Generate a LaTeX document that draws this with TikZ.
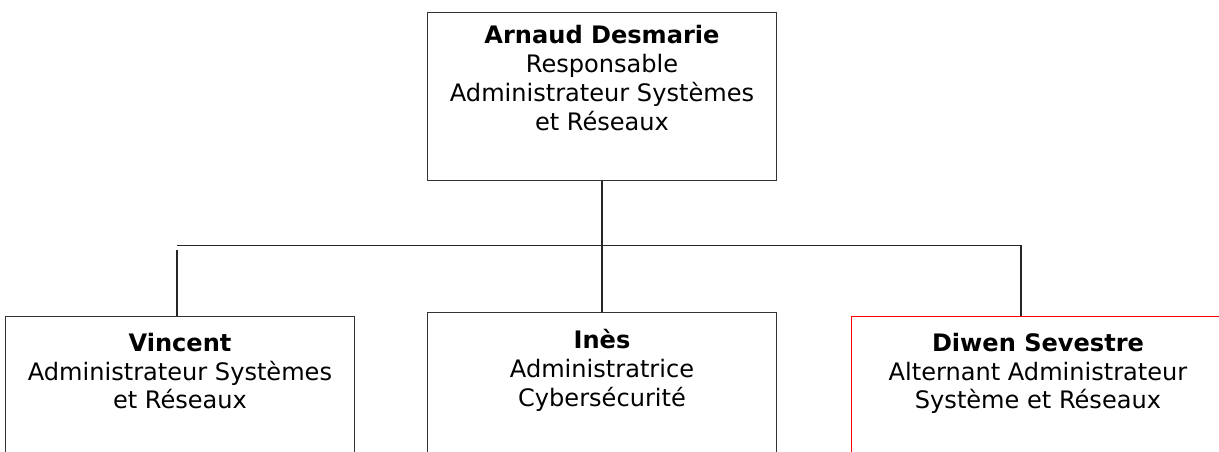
\documentclass[tikz,border=0pt]{standalone}
\usepackage{fontspec}
\setmainfont{DejaVu Sans}
\usetikzlibrary{positioning}

\begin{document}
\begin{tikzpicture}[x=0.02cm,y=-0.02cm]
	\def\blkw{6.98cm}
	\def\blkh{3.36cm}

	\tikzset{
	cadre/.style={draw=black!80, line width=0.6pt, minimum width=\blkw, minimum height=\blkh, anchor=north, inner sep=0pt},
	texte/.style={align=center, anchor=north, inner sep=0pt, font=\fontsize{13.7}{16.4}\selectfont},
	lien/.style={draw=black!85, line width=0.6pt}
	}

	\useasboundingbox (0,0) rectangle (1219,452);
	\clip (0,0) rectangle (1219,452);

	% responsable
	\node[cadre] (arnaud) at (602,12) {};
	\node[texte] (arnaudtxt) at ([yshift=-0.26cm]arnaud.north) {\textbf{Arnaud Desmarie}\\Responsable\\Administrateur Systèmes\\et Réseaux};

	% equipe
	\node[cadre] (vincent) at (180,315.7) {};
	\node[cadre] (ines) at (602,312) {};
	\node[cadre, draw=red, minimum width=7.48cm] (diwen) at (1038,315.6) {};

	\node[texte] (vincenttxt) at ([yshift=-0.34cm]vincent.north) {\textbf{Vincent}\\Administrateur Systèmes\\et Réseaux};
	\node[texte] (inestxt) at ([yshift=-0.34cm]ines.north) {\textbf{Inès}\\Administratrice\\Cybersécurité};
	\node[texte] (diwentxt) at ([yshift=-0.34cm]diwen.north) {\textbf{Diwen Sevestre}\\Alternant Administrateur\\Système et Réseaux};

	% liens
	\coordinate (barreg) at (177,245.5);
	\coordinate (barred) at (1021,245.5);
	\draw[lien] (barreg) -- (barred);
	\draw[lien] (arnaud.south) -- (ines.north);
	\draw[lien] ([yshift=-0.1cm]barreg) -- (barreg |- vincent.north);
	\draw[lien] (barred) -- (barred |- diwen.north);
\end{tikzpicture}
\end{document}
